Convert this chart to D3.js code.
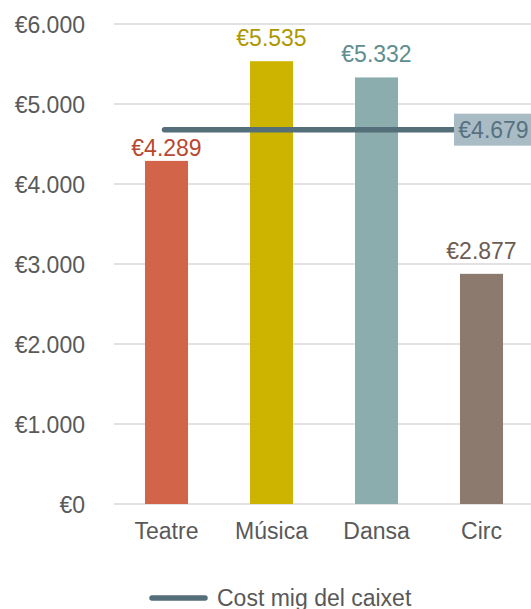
<!DOCTYPE html>
<meta charset="utf-8">
<style>
  body {margin: 0; background: #fff; font-family: 'Liberation Sans', Arial, sans-serif;}
</style>
<svg width="531" height="609"></svg>
<script src="https://cdn.jsdelivr.net/npm/d3@7"></script>
<script>

var categories = ["Teatre", "Música", "Dansa", "Circ"];
var values = [4289, 5535, 5332, 2877];
var barColors = ["#d2644a", "#cdb400", "#8cadad", "#8c7a6f"];
var labelColors = ["#b8472f", "#ad9800", "#5e8e8f", "#6c5c53"];
var average = 4679;
var yTicks = [0, 1000, 2000, 3000, 4000, 5000, 6000];
var legendLabel = "Cost mig del caixet";

var svg = d3.select("svg");

var fmt = function(v) {
  // euro with dot thousands separator
  return "€" + d3.format(",")(v).replace(/,/g, ".");
};

var x = d3.scaleBand()
    .domain(categories)
    .range([114, 534])
    .paddingInner(0.59)
    .paddingOuter(0.295);

var y = d3.scaleLinear()
    .domain([0, 6000])
    .range([504, 24]);

// gridlines
svg.append("g")
    .selectAll("line")
    .data(yTicks)
    .enter().append("line")
    .attr("x1", 114)
    .attr("x2", 531)
    .attr("y1", function(d) { return y(d); })
    .attr("y2", function(d) { return y(d); })
    .style("stroke", "#d9d9d9")
    .style("stroke-width", 1.5);

// y axis labels
var yAxis = d3.axisLeft(y).tickValues(yTicks).tickFormat(fmt).tickSize(0).tickPadding(0);
var gy = svg.append("g")
    .attr("transform", "translate(85,0)")
    .call(yAxis);
gy.select(".domain").remove();
gy.selectAll("text")
    .attr("dy", "0.35em")
    .style("font-family", "'Liberation Sans', Arial, sans-serif")
    .style("font-size", "23px")
    .style("fill", "#595959");

// bars
svg.append("g")
    .selectAll("rect")
    .data(values)
    .enter().append("rect")
    .attr("x", function(d, i) { return x(categories[i]); })
    .attr("y", function(d) { return y(d); })
    .attr("width", x.bandwidth())
    .attr("height", function(d) { return y(0) - y(d); })
    .style("fill", function(d, i) { return barColors[i]; });

// value labels
svg.append("g")
    .selectAll("text")
    .data(values)
    .enter().append("text")
    .attr("x", function(d, i) { return x(categories[i]) + x.bandwidth() / 2; })
    .attr("y", function(d) {
      // labels that would hit the average line sit closer to the bar
      var off = (y(d) - 23 < y(average) + 12 && y(d) > y(average)) ? 5 : 15;
      return y(d) - off;
    })
    .attr("text-anchor", "middle")
    .style("font-size", "23px")
    .style("fill", function(d, i) { return labelColors[i]; })
    .text(fmt);

// x axis labels
var xAxis = d3.axisBottom(x).tickSize(0).tickPadding(0);
var gx = svg.append("g")
    .attr("transform", "translate(0,523)")
    .call(xAxis);
gx.select(".domain").remove();
gx.selectAll("text")
    .attr("dy", "0.71em")
    .style("font-family", "'Liberation Sans', Arial, sans-serif")
    .style("font-size", "23px")
    .style("fill", "#595959");

// average line + label box
var boxLeft = 454;
svg.append("line")
    .attr("x1", x(categories[0]) + x.bandwidth() / 2 - 2)
    .attr("x2", boxLeft)
    .attr("y1", y(average))
    .attr("y2", y(average))
    .style("stroke", "#546e7a")
    .style("stroke-width", 5.5)
    .style("stroke-linecap", "round");

svg.append("rect")
    .attr("x", boxLeft)
    .attr("y", y(average) - 16)
    .attr("width", 80)
    .attr("height", 32)
    .style("fill", "#a9bcc6");

svg.append("text")
    .attr("x", boxLeft + 39.5)
    .attr("y", y(average))
    .attr("dy", "0.35em")
    .attr("text-anchor", "middle")
    .style("font-size", "23px")
    .style("fill", "#587180")
    .text(fmt(average));

// legend
svg.append("line")
    .attr("x1", 152)
    .attr("x2", 205)
    .attr("y1", 598)
    .attr("y2", 598)
    .style("stroke", "#546e7a")
    .style("stroke-width", 5.5)
    .style("stroke-linecap", "round");

svg.append("text")
    .attr("x", 217)
    .attr("y", 606)
    .style("font-size", "23px")
    .style("fill", "#595959")
    .text(legendLabel);

</script>
